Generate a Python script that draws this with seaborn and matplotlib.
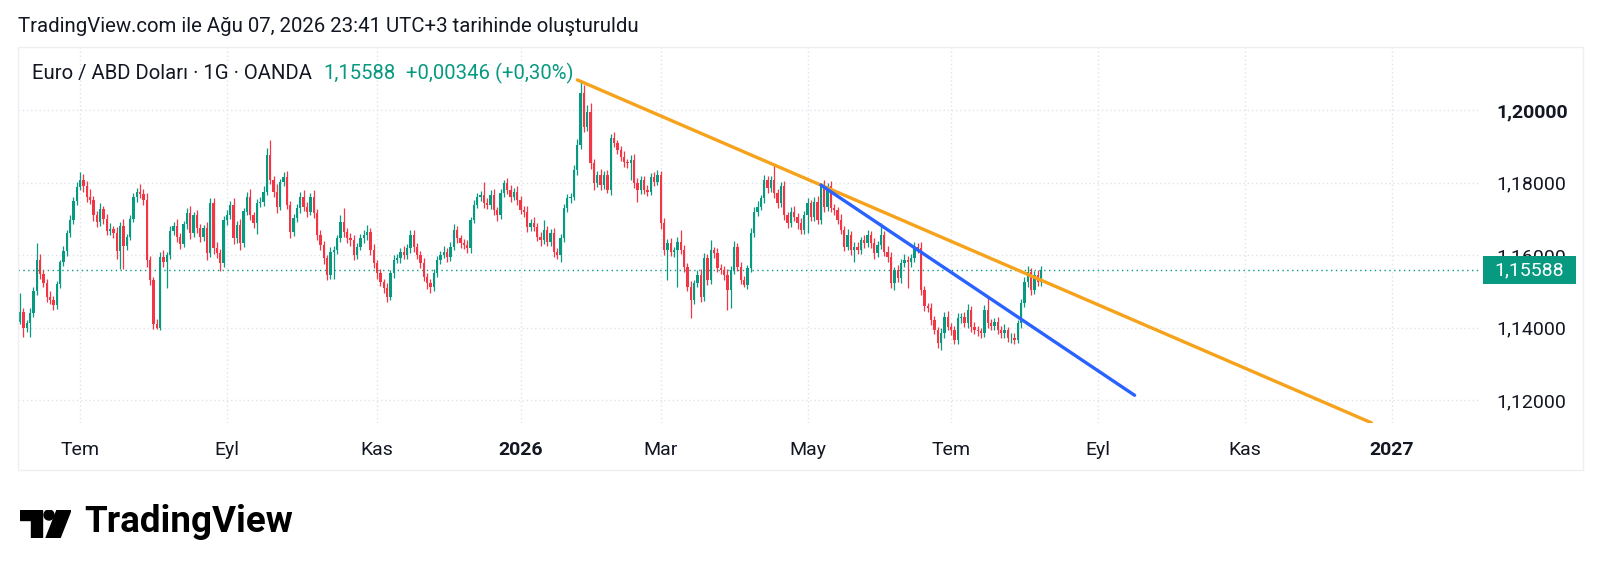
import numpy as np
import pandas as pd
import matplotlib
matplotlib.use("Agg")
import matplotlib.pyplot as plt
from matplotlib.patches import Rectangle, Circle, Polygon
import seaborn as sns

sns.set_theme(style="white")
plt.rcParams['font.family'] = ['Roboto', 'DejaVu Sans']

UP = '#089981'
DOWN = '#F23645'
TEXT = '#131722'
GRID = '#E0E3EB'

# ---- data: EUR/USD daily (OANDA) ----
start_date = '2025-06-05'
first_open = 1.1416
close = [
    1.1443, 1.1398, 1.1412, 1.1440, 1.1500, 1.1586, 1.1548, 1.1522, 1.1485, 1.1477,
    1.1462, 1.1520, 1.1580, 1.1610, 1.1660, 1.1696, 1.1750, 1.1788, 1.1806, 1.1790,
    1.1760, 1.1752, 1.1710, 1.1690, 1.1728, 1.1700, 1.1665, 1.1672, 1.1660, 1.1610,
    1.1680, 1.1625, 1.1650, 1.1700, 1.1760, 1.1775, 1.1768, 1.1752, 1.1585, 1.1530,
    1.1410, 1.1400, 1.1595, 1.1580, 1.1600, 1.1665, 1.1680, 1.1650, 1.1630, 1.1685,
    1.1715, 1.1660, 1.1710, 1.1674, 1.1651, 1.1674, 1.1605, 1.1743, 1.1618, 1.1605,
    1.1577, 1.1697, 1.1710, 1.1738, 1.1646, 1.1683, 1.1632, 1.1720, 1.1761, 1.1710,
    1.1687, 1.1743, 1.1747, 1.1775, 1.1876, 1.1807, 1.1775, 1.1733, 1.1802, 1.1816,
    1.1738, 1.1664, 1.1701, 1.1729, 1.1761, 1.1733, 1.1720, 1.1761, 1.1715, 1.1655,
    1.1628, 1.1591, 1.1545, 1.1609, 1.1614, 1.1646, 1.1692, 1.1664, 1.1646, 1.1641,
    1.1600, 1.1623, 1.1646, 1.1655, 1.1664, 1.1614, 1.1577, 1.1549, 1.1526, 1.1508,
    1.1485, 1.1549, 1.1586, 1.1591, 1.1609, 1.1600, 1.1618, 1.1655, 1.1623, 1.1600,
    1.1577, 1.1540, 1.1522, 1.1513, 1.1549, 1.1586, 1.1600, 1.1609, 1.1595, 1.1623,
    1.1669, 1.1646, 1.1632, 1.1628, 1.1618, 1.1697, 1.1738, 1.1761, 1.1766, 1.1743,
    1.1738, 1.1766, 1.1724, 1.1710, 1.1770, 1.1798, 1.1779, 1.1761, 1.1775, 1.1752,
    1.1724, 1.1720, 1.1678, 1.1687, 1.1678, 1.1651, 1.1641, 1.1669, 1.1637, 1.1660,
    1.1609, 1.1600, 1.1646, 1.1729, 1.1756, 1.1761, 1.1834, 1.1903, 1.2046, 1.1954,
    1.1995, 1.1853, 1.1798, 1.1821, 1.1793, 1.1821, 1.1779, 1.1922, 1.1908, 1.1890,
    1.1871, 1.1857, 1.1853, 1.1862, 1.1798, 1.1779, 1.1807, 1.1779, 1.1775, 1.1816,
    1.1802, 1.1821, 1.1687, 1.1614, 1.1632, 1.1609, 1.1614, 1.1637, 1.1614, 1.1568,
    1.1513, 1.1476, 1.1522, 1.1545, 1.1485, 1.1591, 1.1531, 1.1614, 1.1605, 1.1563,
    1.1559, 1.1545, 1.1504, 1.1559, 1.1623, 1.1568, 1.1531, 1.1517, 1.1563, 1.1660,
    1.1720, 1.1733, 1.1756, 1.1807, 1.1784, 1.1807, 1.1770, 1.1743, 1.1789, 1.1710,
    1.1687, 1.1720, 1.1706, 1.1687, 1.1669, 1.1710, 1.1743, 1.1706, 1.1747, 1.1697,
    1.1793, 1.1733, 1.1789, 1.1729, 1.1724, 1.1697, 1.1669, 1.1623, 1.1655, 1.1614,
    1.1623, 1.1614, 1.1642, 1.1632, 1.1655, 1.1632, 1.1605, 1.1628, 1.1655, 1.1609,
    1.1595, 1.1522, 1.1559, 1.1536, 1.1577, 1.1586, 1.1580, 1.1591, 1.1623, 1.1618,
    1.1503, 1.1458, 1.1453, 1.1421, 1.1393, 1.1356, 1.1384, 1.1430, 1.1402, 1.1393,
    1.1366, 1.1425, 1.1430, 1.1412, 1.1448, 1.1402, 1.1393, 1.1389, 1.1384, 1.1448,
    1.1412, 1.1405, 1.1416, 1.1393, 1.1384, 1.1393, 1.1370, 1.1372, 1.1366, 1.1412,
    1.1467, 1.1526, 1.1554, 1.1504, 1.1545, 1.15242, 1.15588,
]
# wick lengths above / below the body, in pips
wick_up = [
    51, 12, 9, 14, 11, 46, 18, 10, 13, 16,
    11, 9, 7, 15, 8, 13, 9, 12, 24, 17,
    14, 21, 10, 12, 15, 8, 13, 17, 9, 16,
    11, 19, 8, 10, 12, 9, 22, 13, 19, 11,
    9, 14, 13, 20, 8, 15, 11, 18, 12, 10,
    16, 21, 10, 15, 12, 9, 17, 14, 13, 18,
    11, 10, 15, 12, 19, 10, 16, 9, 13, 22,
    10, 12, 13, 15, 18, 41, 11, 20, 9, 13,
    17, 10, 12, 11, 14, 19, 12, 10, 18, 13,
    15, 11, 9, 13, 12, 10, 17, 37, 11, 15,
    13, 9, 12, 14, 18, 11, 15, 10, 12, 9,
    15, 10, 13, 12, 9, 17, 11, 14, 13, 10,
    12, 15, 9, 11, 13, 10, 12, 15, 9, 14,
    16, 11, 10, 13, 12, 9, 15, 11, 10, 36,
    13, 12, 17, 9, 11, 8, 15, 13, 10, 14,
    11, 10, 15, 12, 17, 9, 13, 27, 12, 11,
    14, 10, 12, 13, 11, 10, 15, 17, 37, 22,
    19, 25, 13, 12, 16, 10, 14, 11, 18, 10,
    12, 15, 9, 13, 17, 14, 10, 12, 15, 9,
    13, 14, 11, 16, 12, 15, 9, 12, 32, 14,
    11, 15, 10, 13, 17, 14, 12, 27, 9, 13,
    12, 10, 15, 11, 16, 10, 13, 12, 9, 14,
    12, 17, 10, 15, 11, 10, 41, 13, 12, 16,
    9, 12, 15, 10, 16, 11, 14, 10, 13, 15,
    5, 13, 10, 14, 12, 9, 15, 11, 17, 10,
    12, 14, 9, 13, 15, 10, 16, 11, 32, 10,
    15, 12, 9, 13, 12, 17, 10, 11, 14, 9,
    17, 12, 10, 15, 11, 9, 14, 13, 16, 10,
    12, 15, 9, 13, 16, 10, 14, 11, 9, 15,
    37, 11, 10, 13, 12, 16, 9, 12, 14, 10,
    11, 14, 16, 10, 12, 13, 12,
]
wick_dn = [
    5, 25, 10, 37, 12, 9, 14, 11, 16, 13,
    14, 10, 12, 9, 13, 11, 10, 12, 8, 15,
    13, 10, 16, 12, 9, 14, 11, 10, 13, 20,
    50, 65, 12, 10, 9, 13, 11, 15, 18, 12,
    14, 5, 8, 12, 70, 11, 10, 14, 13, 9,
    12, 16, 10, 13, 15, 11, 19, 10, 14, 12,
    21, 11, 13, 10, 15, 12, 17, 9, 11, 14,
    13, 28, 10, 12, 9, 11, 14, 16, 10, 12,
    11, 17, 12, 10, 13, 11, 15, 10, 12, 14,
    13, 16, 15, 12, 74, 10, 11, 13, 12, 15,
    14, 11, 10, 12, 13, 15, 12, 14, 11, 13,
    14, 10, 12, 9, 13, 11, 10, 12, 14, 11,
    13, 12, 15, 19, 11, 10, 12, 9, 13, 11,
    10, 12, 14, 11, 13, 12, 10, 9, 11, 14,
    12, 10, 13, 15, 11, 9, 12, 14, 10, 13,
    12, 14, 15, 11, 13, 12, 15, 10, 13, 11,
    14, 12, 18, 10, 11, 12, 9, 13, 11, 16,
    13, 15, 19, 11, 14, 12, 9, 13, 10, 12,
    11, 13, 12, 46, 14, 32, 11, 12, 13, 10,
    12, 10, 14, 13, 83, 12, 14, 101, 11, 15,
    13, 51, 12, 10, 16, 12, 15, 11, 13, 10,
    12, 14, 56, 51, 11, 13, 12, 5, 12, 10,
    11, 13, 10, 12, 14, 11, 13, 12, 10, 14,
    13, 11, 12, 15, 10, 12, 50, 11, 13, 12,
    11, 13, 12, 10, 14, 12, 11, 13, 10, 15,
    32, 12, 10, 13, 11, 12, 15, 10, 12, 11,
    13, 12, 19, 11, 14, 10, 72, 12, 11, 13,
    14, 12, 10, 13, 11, 13, 18, 12, 10, 14,
    12, 11, 13, 10, 12, 14, 11, 13, 12, 10,
    13, 12, 11, 10, 13, 12, 11, 14, 12, 10,
    12, 11, 13, 14, 12, 11, 10,
]

last_price = 1.15588
change = 0.00346
change_pct = 0.30

# trend lines: (date, price) anchors
orange_dates = ['2026-01-26', '2026-12-24']
orange_prices = [1.2083, 1.1137]
blue_dates = ['2026-05-07', '2026-09-16']
blue_prices = [1.1793, 1.1213]

y_ticks = [1.12, 1.14, 1.16, 1.18, 1.20]
month_tr = ['Oca', 'Şub', 'Mar', 'Nis', 'May', 'Haz',
            'Tem', 'Ağu', 'Eyl', 'Eki', 'Kas', 'Ara']

# ---- build frame ----
n = len(close)
assert len(wick_up) == n and len(wick_dn) == n
df = pd.DataFrame({'date': pd.bdate_range(start_date, periods=n), 'close': close})
df['open'] = [first_open] + close[:-1]
df['high'] = df[['open', 'close']].max(axis=1) + np.array(wick_up) / 10000
df['low'] = df[['open', 'close']].min(axis=1) - np.array(wick_dn) / 10000
df['x'] = np.arange(n)
df['up'] = df['close'] >= df['open']

cal = pd.bdate_range(start_date, '2027-06-30')

def bar_pos(d):
    return cal.searchsorted(pd.Timestamp(d))

# ---- figure ----
W, H = 1600, 573
fig = plt.figure(figsize=(W / 100, H / 100), dpi=100)
fig.patch.set_facecolor('white')

def fx(px):
    return px / W

def fy(py):
    return 1 - py / H

ax = fig.add_axes([fx(18), fy(423), fx(1480 - 18), (423 - 47) / H])
ax.set_facecolor('white')

# candles
cols = np.where(df['up'], UP, DOWN)
ax.vlines(df['x'], df['low'], df['high'], colors=cols, linewidth=0.9, zorder=3)
body_h = (df['close'] - df['open']).abs().clip(lower=0.00004)
ax.bar(df['x'], body_h, bottom=df[['open', 'close']].min(axis=1),
       width=0.7, color=cols, linewidth=0, zorder=4)

# trend lines
tl = pd.DataFrame({
    'x': [bar_pos(d) for d in orange_dates] + [bar_pos(d) for d in blue_dates],
    'y': orange_prices + blue_prices,
    'line': ['orange', 'orange', 'blue', 'blue'],
})
sns.lineplot(data=tl, x='x', y='y', hue='line', palette={'orange': '#F7A21B', 'blue': '#2962FF'},
             linewidth=2.4, legend=False, ax=ax, zorder=5, sort=False)

# last price line
ax.axhline(last_price, color=UP, linewidth=1, linestyle=(0, (1, 2.5)), zorder=2)

# axes setup
ax.set_xlim(-0.6, 437.5)
ax.set_ylim(1.20 - (423 - 110) / 3625, 1.20 + (110 - 47) / 3625)
for s in ax.spines.values():
    s.set_visible(False)

months = pd.date_range('2025-07-01', '2027-01-01', freq='2MS')
xt = [bar_pos(m) for m in months]
xl = [str(m.year) if m.month == 1 else month_tr[m.month - 1] for m in months]
ax.set_xticks(xt, xl)
ax.set_yticks(y_ticks, [f"{v:.5f}".replace('.', ',') for v in y_ticks])
ax.yaxis.tick_right()
ax.tick_params(axis='x', length=0, pad=13, labelsize=14, labelcolor=TEXT)
ax.tick_params(axis='y', length=0, pad=12, labelsize=14, labelcolor=TEXT)
for lab in ax.get_xticklabels():
    if lab.get_text().isdigit():
        lab.set_fontweight('bold')
ax.get_yticklabels()[-1].set_fontweight('bold')
ax.set_xlabel('')
ax.set_ylabel('')
ax.grid(True, color=GRID, linestyle=(0, (1, 2)), linewidth=1)
ax.set_axisbelow(True)

# chart frame
fig.add_artist(Rectangle((fx(18), fy(470)), fx(1583 - 18), (470 - 47) / H,
                         transform=fig.transFigure, fill=False,
                         edgecolor='#EDEFF3', linewidth=1))

# price badge
fig.add_artist(Rectangle((fx(1483), fy(284)), fx(93), 28 / H,
                         transform=fig.transFigure, facecolor=UP,
                         edgecolor='none', zorder=10))
fig.text(fx(1529), fy(270), f"{last_price:.5f}".replace('.', ','), color='white',
         fontsize=14, ha='center', va='center', zorder=11)

# header and legend
fig.text(fx(18), fy(27), "TradingView.com ile Ağu 07, 2026 23:41 UTC+3 tarihinde oluşturuldu",
         fontsize=14.7, color=TEXT, va='center')
renderer = fig.canvas.get_renderer()
t1 = fig.text(fx(32), fy(73), "Euro / ABD Doları · 1G · OANDA", fontsize=14.6,
              color=TEXT, va='center')
x1 = t1.get_window_extent(renderer).x1 + 11
t2 = fig.text(x1 / W, fy(73), f"{last_price:.5f}".replace('.', ','), fontsize=14.6,
              color=UP, va='center')
x2 = t2.get_window_extent(renderer).x1 + 11
chg = f"+{change:.5f} (+{change_pct:.2f}%)".replace('.', ',')
fig.text(x2 / W, fy(73), chg, fontsize=14.6, color=UP, va='center')

# TradingView logo
lax = fig.add_axes([fx(20), fy(538), fx(51), 28 / H])
lax.set_xlim(0, 51)
lax.set_ylim(28, 0)
lax.axis('off')
lax.add_patch(Polygon([(0, 0), (22, 0), (22, 28), (11, 28), (11, 10), (0, 10)], color='black'))
lax.add_patch(Circle((29, 5), 5, color='black'))
lax.add_patch(Polygon([(37, 0), (51, 0), (40, 28), (26, 28)], color='black'))
fig.text(fx(84), fy(522), "TradingView", fontsize=26.5, fontweight='bold',
         color='black', va='center')

fig.savefig('out.png', dpi=100, facecolor='white')
